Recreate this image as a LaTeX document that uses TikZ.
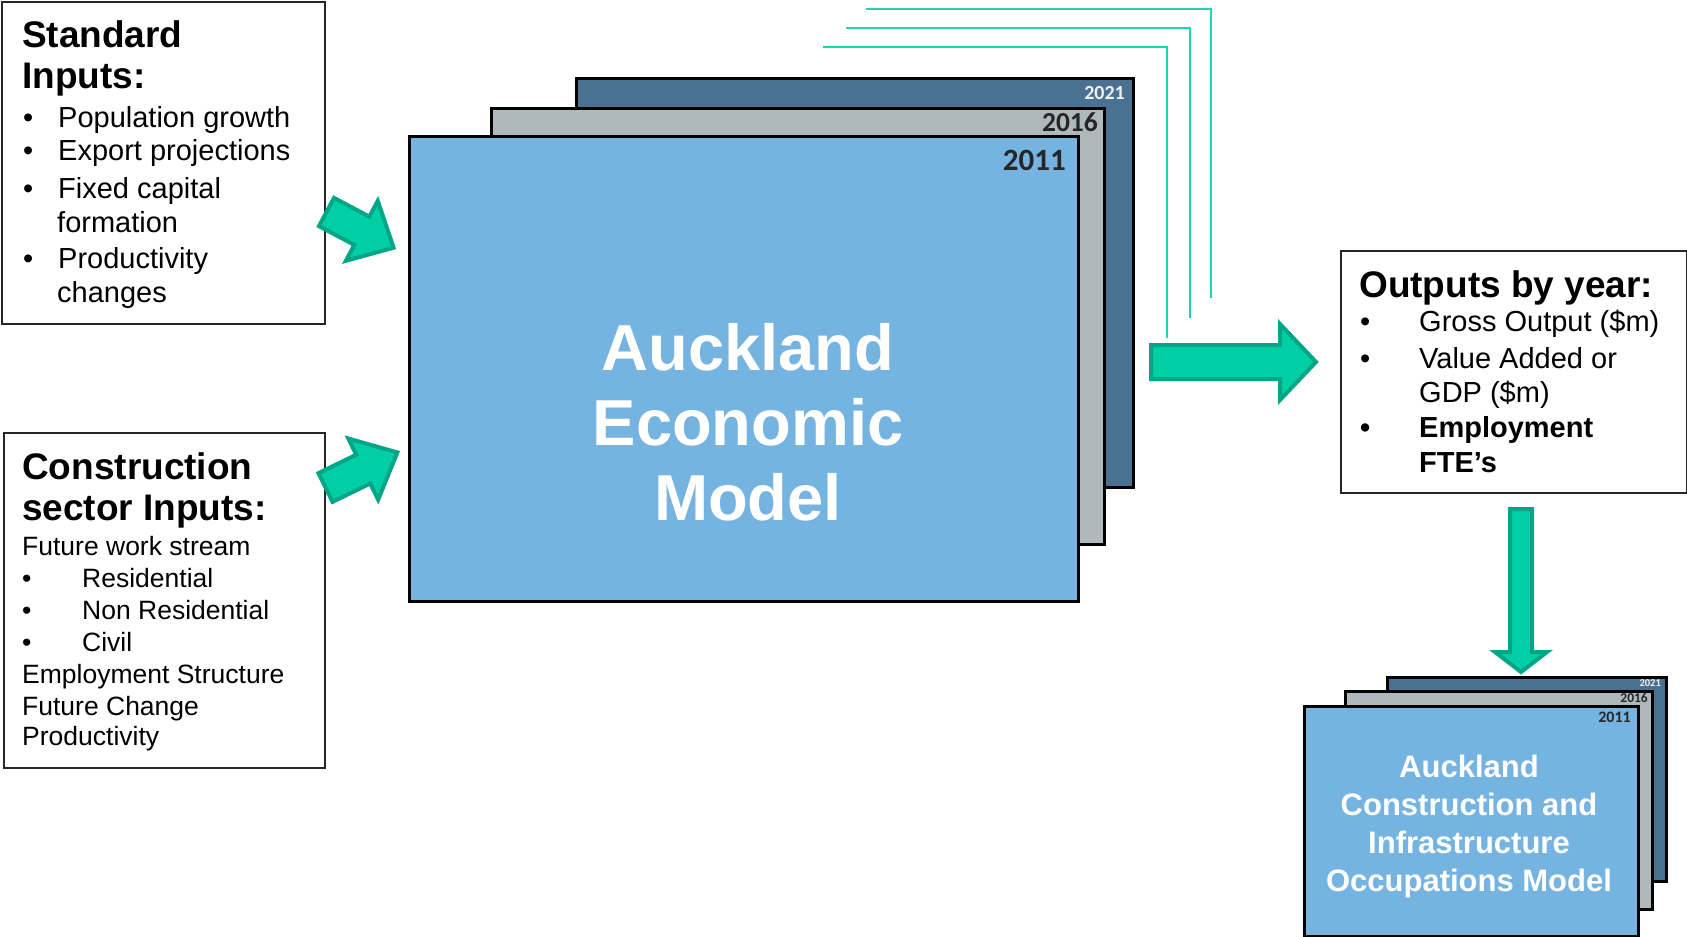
\documentclass[tikz,border=0pt]{standalone}
\usepackage{fontspec}
\setmainfont{Liberation Sans}
\newfontfamily\yearfont{Carlito}
\definecolor{arrfill}{HTML}{00CFA5}
\definecolor{arrline}{HTML}{00A686}
\definecolor{tline}{HTML}{22D4AE}
\definecolor{frontblue}{HTML}{75B3E1}
\definecolor{midgrey}{HTML}{AFB9BB}
\definecolor{backblue}{HTML}{4A7192}
\definecolor{yeardark}{HTML}{262626}
\newcommand\bul[1]{\makebox[#1pt][l]{•}}
\begin{document}
\begin{tikzpicture}[x=1pt,y=-1pt,
  inbox/.style={draw=black!85,line width=2pt,fill=white,anchor=north west,inner sep=0pt},
  sheet/.style={draw=black,line width=3pt,anchor=north west,inner sep=0pt},
  smallsheet/.style={draw=black,line width=2.5pt,anchor=north west,inner sep=0pt},
  ln/.style={anchor=base west,inner sep=0pt},
  hd/.style={ln,font=\fontsize{37}{41}\selectfont\bfseries},
  bt/.style={ln,font=\fontsize{29}{34}\selectfont},
  ct/.style={ln,font=\fontsize{26.5}{32}\selectfont},
  yr/.style={anchor=base east,inner sep=0pt},
  blockarrow/.style={fill=arrfill,draw=arrline,line width=4pt},
  feed/.style={draw=tline,line width=2.5pt}
]
\useasboundingbox (0,0) rectangle (1687,937);

% feed lines
\draw[feed] (866,9) -| (1211,298);
\draw[feed] (846,28) -| (1190,318);
\draw[feed] (823,47) -| (1167,338);

% main stack
\node[sheet,fill=backblue,minimum width=557pt,minimum height=409pt] (m21) at (575,77) {};
\node[sheet,fill=midgrey,minimum width=613pt,minimum height=436pt] (m16) at (490,107) {};
\node[sheet,fill=frontblue,minimum width=669pt,minimum height=465pt] (m11) at (408,135) {};
\node[yr,text=white!94!black,font=\yearfont\bfseries\fontsize{20}{20}\selectfont] (y21) at (1125,99) {2021};
\node[yr,text=yeardark,font=\yearfont\bfseries\fontsize{27.5}{28}\selectfont] (y16) at (1098,131) {2016};
\node[yr,text=yeardark,font=\yearfont\bfseries\fontsize{31}{32}\selectfont] (y11) at (1066,170) {2011};
\node[anchor=north,inner sep=0pt,align=center,text=white,font=\bfseries\fontsize{65}{75}\selectfont] (mtitle) at (748,323.5) {Auckland\\Economic\\Model};

% standard inputs
\node[inbox,minimum width=323pt,minimum height=322pt] (std) at (1,1) {};
\node[hd] (s1) at (22,47) {Standard};
\node[hd] (s2) at (22,88) {Inputs:};
\node[bt] (s3) at (23,127) {\bul{35}Population growth};
\node[bt] (s4) at (23,160) {\bul{35}Export projections};
\node[bt] (s5) at (23,198) {\bul{35}Fixed capital};
\node[bt] (s6) at (57,232) {formation};
\node[bt] (s7) at (23,268) {\bul{35}Productivity};
\node[bt] (s8) at (57,302) {changes};

% construction inputs
\node[inbox,minimum width=321pt,minimum height=335pt] (con) at (3,432) {};
\node[hd] (c1) at (22,479) {Construction};
\node[hd] (c2) at (22,520) {sector Inputs:};
\node[ct] (c3) at (22,555) {Future work stream};
\node[ct] (c4) at (22,587) {\bul{60}Residential};
\node[ct] (c5) at (22,619) {\bul{60}Non Residential};
\node[ct] (c6) at (22,651) {\bul{60}Civil};
\node[ct] (c7) at (22,683) {Employment Structure};
\node[ct] (c8) at (22,715) {Future Change};
\node[ct] (c9) at (22,745) {Productivity};

% outputs
\node[inbox,minimum width=346pt,minimum height=242pt] (out) at (1340,250) {};
\node[hd] (o1) at (1359,297) {Outputs by year:};
\node[bt] (o2) at (1360,331) {\bul{59}Gross Output (\$m)};
\node[bt] (o3) at (1360,368) {\bul{59}Value Added or};
\node[bt] (o4) at (1419,402) {GDP (\$m)};
\node[bt,font=\fontsize{29}{34}\selectfont\bfseries] (o5) at (1360,437) {\bul{59}Employment};
\node[bt,font=\fontsize{29}{34}\selectfont\bfseries] (o6) at (1419,472) {FTE’s};

% block arrows
\begin{scope}[shift={(326.5,212)},rotate=-28]
\draw[blockarrow] (0,-16) -- (40,-16) -- (40,-34) -- (76,0) -- (40,34) -- (40,16) -- (0,16) -- cycle;
\end{scope}
\begin{scope}[shift={(325.5,487.5)},rotate=26]
\draw[blockarrow] (0,-16) -- (42,-16) -- (42,-34) -- (80,0) -- (42,34) -- (42,16) -- (0,16) -- cycle;
\end{scope}
\draw[blockarrow] (1151,345) -- (1280,345) -- (1280,324) -- (1316,362) -- (1280,400) -- (1280,379) -- (1151,379) -- cycle;
\draw[blockarrow] (1510,509) -- (1532,509) -- (1532,652) -- (1547,652) -- (1521,672) -- (1495,652) -- (1510,652) -- cycle;

% bottom stack
\node[smallsheet,fill=backblue,minimum width=279pt,minimum height=204pt] (b21) at (1386,676) {};
\node[smallsheet,fill=midgrey,minimum width=307pt,minimum height=218pt] (b16) at (1344,690) {};
\node[smallsheet,fill=frontblue,minimum width=334pt,minimum height=230pt] (b11) at (1303,705) {};
\node[yr,text=white!94!black,font=\yearfont\bfseries\fontsize{10.5}{11}\selectfont] (by21) at (1661,686) {2021};
\node[yr,text=yeardark,font=\yearfont\bfseries\fontsize{13.5}{14}\selectfont] (by16) at (1648,702) {2016};
\node[yr,text=yeardark,font=\yearfont\bfseries\fontsize{16}{16}\selectfont] (by11) at (1631,722) {2011};
\node[anchor=north,inner sep=0pt,align=center,text=white,font=\bfseries\fontsize{31}{38}\selectfont] (btitle) at (1469,754.4) {Auckland\\Construction and\\Infrastructure\\Occupations Model};
\end{tikzpicture}
\end{document}
